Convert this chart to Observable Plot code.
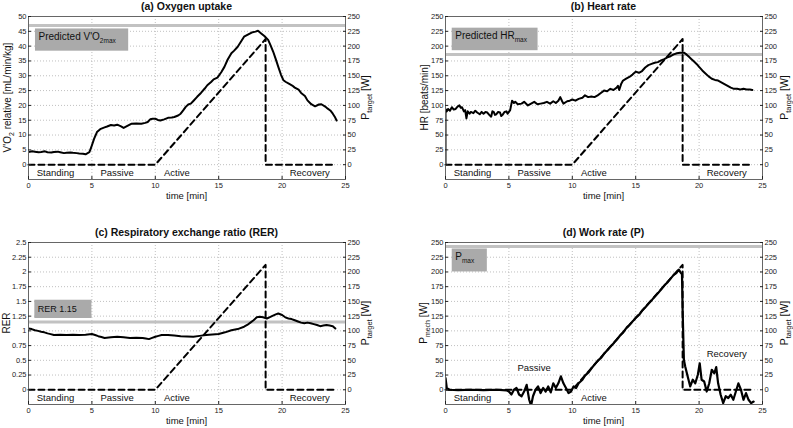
<!DOCTYPE html>
<html><head><meta charset="utf-8">
<script src="https://cdn.jsdelivr.net/npm/d3@7"></script>
<script src="https://cdn.jsdelivr.net/npm/@observablehq/plot@0.6"></script>
<style>
body{margin:0;background:#fff;}
#fig{position:relative;width:793px;height:428px;font-family:"Liberation Sans",Arial,sans-serif;}
#fig svg{position:absolute;overflow:visible;}
</style></head><body><div id="fig"></div>
<script>
// ---------- shared data ----------
const xTicks = [0, 5, 10, 15, 20, 25];
const xGrid = [5, 10, 15, 20];
const targetTicks = [0, 25, 50, 75, 100, 125, 150, 175, 200, 225, 250];
const targetT = [0, 10, 18.7, 18.7, 24.1];
const targetP = [0, 0, 212, 0, 0];
const phaseNames = ["Standing", "Passive", "Active", "Recovery"];
const phaseT = [0.65, 5.67, 10.68, 20.6];

// (a) oxygen uptake [mL/min/kg]
const vo2 = [[0,4.3],[0.3,4.5],[0.5,4.4],[0.8,4.2],[1,4.3],[1.3,4.5],[1.5,4.2],[1.8,4.1],[2,4.3],[2.3,4.4],[2.5,4.2],[2.8,3.9],[3,4.0],[3.3,4.1],[3.5,4.0],[3.8,3.9],[4,3.8],[4.3,3.7],[4.5,3.5],[4.8,4.2],[4.95,5.9],[5.17,8.7],[5.4,11],[5.7,12.1],[6,12.6],[6.2,12.9],[6.5,13.4],[6.75,13.2],[7,13.5],[7.3,12.9],[7.5,12.4],[7.8,13.1],[8.1,13.8],[8.5,13.9],[8.9,13.8],[9.2,14.1],[9.4,14.4],[9.6,15.3],[9.8,15.5],[10,15.5],[10.2,15.1],[10.4,14.9],[10.7,15.3],[11,15.8],[11.3,15.9],[11.5,16.1],[11.8,16.6],[12,17.2],[12.2,18.3],[12.4,19.5],[12.6,20.3],[12.8,20.6],[13,21.5],[13.3,22.9],[13.6,24.2],[13.9,25.7],[14.1,26.8],[14.4,27.9],[14.6,28.8],[14.9,29.4],[15.2,31.2],[15.45,33],[15.7,35.4],[16,37.6],[16.2,38.4],[16.5,39.8],[16.8,41.8],[17,43.2],[17.3,43.9],[17.6,44.6],[17.9,44.9],[18.1,45.2],[18.35,44.3],[18.6,43.4],[18.9,42.1],[19.1,40.2],[19.3,38.1],[19.5,35.6],[19.7,33],[19.9,30.5],[20.1,28.5],[20.3,27.9],[20.5,27.4],[20.8,26.7],[21,26],[21.3,25.3],[21.5,24.2],[21.8,23.2],[22,21.7],[22.3,20.4],[22.6,19.7],[22.9,20.3],[23.1,20.4],[23.4,19.6],[23.6,18.9],[23.8,18.3],[24,17.2],[24.15,16.2],[24.3,14.9]];
const vo2Ticks = [0,5,10,15,20,25,30,35,40,45,50];
const vo2Max = 47;

// (b) heart rate [beats/min]
const hr = [[0,0],[0,94],[0.1,90],[0.2,94],[0.35,91],[0.5,97],[0.65,93],[0.8,94],[0.95,98],[1.1,100],[1.2,96],[1.3,97],[1.45,90],[1.55,92],[1.65,78],[1.75,90],[1.9,86],[2,89],[2.2,87],[2.35,91],[2.5,88],[2.7,85],[2.85,89],[3,86],[3.15,89],[3.3,88],[3.45,84],[3.6,81],[3.7,90],[3.8,89],[3.9,84],[4,85],[4.15,89],[4.3,88],[4.4,82],[4.5,84],[4.65,89],[4.8,90],[4.9,86],[5,89],[5.1,92],[5.25,108],[5.4,104],[5.5,106],[5.7,102],[6,103],[6.2,106],[6.5,100],[6.75,103],[7,106],[7.25,102],[7.5,103],[7.75,104],[8,106],[8.25,103],[8.5,107],[8.7,104],[8.9,108],[9.05,114],[9.2,107],[9.3,103],[9.6,107],[9.8,108],[10,110],[10.25,108],[10.5,111],[10.8,113],[11,117],[11.25,114],[11.5,115],[11.75,114],[12,117],[12.25,121],[12.5,125],[12.75,124],[13,128],[13.25,126],[13.5,130],[13.6,133],[13.7,126],[13.85,136],[14,142],[14.25,145],[14.5,148],[14.75,152],[15,157],[15.25,155],[15.5,158],[15.75,164],[16,168],[16.25,170],[16.5,172],[16.75,173],[17,176],[17.25,178],[17.5,181],[17.75,183],[18,186],[18.25,188],[18.5,189],[18.8,189],[19,186],[19.2,182],[19.4,178],[19.6,174],[19.8,170],[20,165],[20.25,159],[20.5,154],[20.75,149],[21,145],[21.25,143],[21.5,142],[21.75,139],[22,136],[22.25,133],[22.5,130],[22.75,128],[23,128],[23.25,127],[23.5,128],[23.75,127],[24,127],[24.2,126]];
const hrTicks = [0,25,50,75,100,125,150,175,200,225,250];
const hrMax = 186;

// (c) respiratory exchange ratio
const rer = [[0,1.04],[0.25,1.03],[0.5,1.01],[0.75,1.0],[1,0.985],[1.25,0.975],[1.5,0.957],[1.75,0.945],[2,0.93],[2.5,0.935],[3,0.93],[3.5,0.935],[4,0.93],[4.5,0.935],[5,0.946],[5.25,0.93],[5.5,0.91],[5.75,0.895],[6,0.88],[6.5,0.89],[7,0.9],[7.5,0.89],[8,0.88],[8.5,0.885],[9,0.88],[9.25,0.87],[9.5,0.86],[9.75,0.88],[10,0.9],[10.25,0.915],[10.5,0.93],[11,0.93],[11.5,0.92],[12,0.91],[12.5,0.905],[13,0.9],[13.5,0.915],[14,0.93],[14.5,0.94],[15,0.946],[15.5,0.975],[16,1.01],[16.5,1.03],[17,1.07],[17.25,1.1],[17.5,1.14],[17.75,1.18],[18,1.23],[18.25,1.24],[18.5,1.23],[18.8,1.21],[19,1.23],[19.2,1.25],[19.5,1.28],[19.7,1.295],[20,1.27],[20.25,1.23],[20.5,1.21],[20.75,1.2],[21,1.18],[21.25,1.16],[21.5,1.14],[21.75,1.13],[22,1.14],[22.25,1.13],[22.5,1.115],[22.75,1.1],[23,1.08],[23.25,1.09],[23.5,1.1],[23.75,1.09],[24,1.08],[24.2,1.04]];
const rerTicks = [0,0.25,0.5,0.75,1,1.25,1.5,1.75,2,2.25,2.5];
const rerRef = 1.15;

// (d) mechanical work rate [W]
const pmech = [[0,20],[0.1,3],[0.3,0],[1,-0.5],[2,0],[3,-0.5],[4,0],[4.8,-1],[5,-3],[5.2,-8],[5.4,0],[5.6,3],[5.8,-8],[6,-11],[6.2,-3],[6.4,8.5],[6.6,-17],[6.75,-27],[6.9,-11],[7.1,0],[7.3,5.7],[7.5,-5.7],[7.7,3],[7.9,-3],[8.1,5.7],[8.3,-4.5],[8.5,11],[8.7,3],[8.9,11],[9.1,22.7],[9.3,11],[9.5,3],[9.7,-5.7],[9.9,-3],[10.1,5.7],[10.3,3],[10.5,11],[10.8,17],[11,24],[11.3,30],[11.5,36],[11.8,44],[12,49],[12.3,55],[12.5,61],[12.8,68],[13,73],[13.3,80],[13.5,85],[13.8,93],[14,97],[14.3,106],[14.5,110],[14.8,117],[15,122],[15.3,128],[15.5,134],[15.8,141],[16,146],[16.3,153],[16.5,158],[16.8,165],[17,170],[17.3,178],[17.5,182],[17.8,190],[18,195],[18.2,198],[18.4,204],[18.55,199],[18.65,196],[18.7,136],[18.8,51],[18.9,40],[19.1,22.7],[19.3,5.7],[19.5,17],[19.7,11],[19.9,25.5],[20.05,45],[20.2,17],[20.4,14],[20.6,-3],[20.8,11],[21,34],[21.2,28],[21.35,38.5],[21.5,11],[21.7,-8.5],[21.9,-22.7],[22.1,-11],[22.3,-14],[22.5,-8.5],[22.7,-17],[22.9,-3],[23.1,11],[23.3,0],[23.5,-17],[23.7,-5.7],[23.9,-17],[24.1,-22.7],[24.3,-20]];
const pTicks = [0,25,50,75,100,125,150,175,200,225,250];
const pMax = 243;

// ---------- drawing ----------
const fig = document.getElementById("fig");

function richText(svg, x, y, parts, {size = 9.5, sub = 0.7, weight = "normal", anchor = "start", rotate = 0} = {}) {
  const t = d3.select(svg).append("text")
    .attr("transform", `translate(${x},${y})` + (rotate ? ` rotate(${rotate})` : ""))
    .attr("text-anchor", anchor)
    .attr("font-size", size)
    .attr("font-weight", weight)
    .attr("font-family", "'Liberation Sans', Arial, sans-serif")
    .attr("fill", "#111");
  let shifted = false;
  const off = size * 0.32;
  parts.forEach(([s, isSub]) => {
    const sp = t.append("tspan").text(s);
    if (isSub) {
      sp.attr("font-size", size * sub);
      if (!shifted) { sp.attr("dy", off); shifted = true; }
    } else {
      if (shifted) { sp.attr("dy", -off); shifted = false; }
    }
  });
  return t;
}

function panel(cfg) {
  const W = 397, H = 214;
  const {left, top, mt, mr, mb, ml, yDomain, yTicks, factor, series, ref, box} = cfg;
  const target = targetT.map((t, i) => ({t, v: targetP[i] * factor}));
  const rightTicks = targetTicks.map(w => w * factor);
  const phases = phaseNames.map((n, i) => ({n, t: phaseT[i], y: cfg.phaseY[i]}));
  const gridStyle = {stroke: "#b0b0b0", strokeOpacity: 1, strokeDasharray: "1,2", strokeWidth: 0.8};
  const chart = Plot.plot({
    width: W, height: H,
    marginTop: mt, marginRight: mr, marginBottom: mb, marginLeft: ml,
    x: {domain: [0, 25]},
    y: {domain: yDomain},
    style: {fontFamily: "'Liberation Sans', Arial, sans-serif", fontSize: "7.5px", color: "#222", background: "transparent", overflow: "visible"},
    marks: [
      Plot.gridX(xGrid, gridStyle),
      Plot.gridY(yTicks, gridStyle),
      Plot.ruleY([ref], {stroke: "#c2c2c2", strokeWidth: 3}),
      Plot.rect([box], {x1: d => d[0], x2: d => d[1], y1: d => d[2], y2: d => d[3], fill: "#aaaaaa"}),
      Plot.line(series, {x: d => d[0], y: d => d[1], stroke: "#000", strokeWidth: cfg.lw || 2, clip: true}),
      Plot.line(target, {x: "t", y: "v", stroke: "#000", strokeWidth: 2, strokeDasharray: "6,4"}),
      Plot.text(phases, {x: "t", y: "y", text: "n", textAnchor: "start", fontSize: 9.5, fill: "#111"}),
      Plot.frame({stroke: "#666"}),
      Plot.axisX(xTicks, {anchor: "bottom", tickSize: -3, tickPadding: 6, label: null, fontSize: 7.5}),
      Plot.axisY(yTicks, {anchor: "left", tickSize: -3, tickPadding: 5, tickFormat: d => String(d), label: null, fontSize: 7.5}),
      Plot.axisY(rightTicks, {anchor: "right", tickSize: -3, tickPadding: 5, tickFormat: d => String(Math.round(d / factor)), label: null, fontSize: 7.5})
    ]
  });
  chart.style.left = left + "px";
  chart.style.top = top + "px";
  fig.appendChild(chart);
  const sx = chart.scale("x"), sy = chart.scale("y");
  const cx = (ml + (W - mr)) / 2, cy = (mt + (H - mb)) / 2;
  richText(chart, cx, mt - 6, [[cfg.title, false]], {size: 10.5, weight: "bold", anchor: "middle"});
  richText(chart, cx, H - mb + 19.5, [["time [min]", false]], {size: 9.5, anchor: "middle"});
  richText(chart, cfg.ylabelX, cy, cfg.ylabel, {size: 10, anchor: "middle", rotate: -90});
  richText(chart, cfg.rightX, cy, [["P", false], ["target", true], [" [W]", false]], {size: 10.5, anchor: "middle", rotate: -90});
  const bx = sx.apply(box[0]) + 3.5;
  const by = (sy.apply(box[2]) + sy.apply(box[3])) / 2 + cfg.boxDy;
  richText(chart, bx, by, cfg.boxLabel, {size: cfg.boxSize || 10, sub: 0.65});
}

panel({left: 0, top: 0, mt: 16, mr: 52, mb: 35, ml: 28,
  yDomain: [-5, 50], yTicks: vo2Ticks, factor: 0.2, series: vo2, ref: vo2Max,
  box: [0.55, 7.9, 38.3, 45.8], boxLabel: [["Predicted V'O", false], ["2max", true]], boxDy: 0,
  title: "(a) Oxygen uptake", ylabel: [["V'O", false], ["2", true], [" relative [mL/min/kg]", false]],
  ylabelX: 11, rightX: 369, phaseY: [-2.7, -2.7, -2.7, -2.7]});

panel({left: 396, top: 0, mt: 16, mr: 31, mb: 35, ml: 49,
  yDomain: [-25, 250], yTicks: hrTicks, factor: 1, series: hr, ref: hrMax,
  box: [0.53, 7.3, 192.3, 230.3], boxLabel: [["Predicted HR", false], ["max", true]], boxDy: 0,
  title: "(b) Heart rate", ylabel: [["HR [beats/min]", false]],
  ylabelX: 32, rightX: 392, phaseY: [-13.6, -13.6, -13.6, -13.6]});

panel({left: 0, top: 214, mt: 28, mr: 52, mb: 24, ml: 28,
  yDomain: [-0.25, 2.5], yTicks: rerTicks, factor: 0.01, series: rer, ref: rerRef,
  box: [0.5, 5.0, 1.21, 1.52], boxLabel: [["RER 1.15", false]], boxDy: 3, boxSize: 9,
  title: "(c) Respiratory exchange ratio (RER)", ylabel: [["RER", false]],
  ylabelX: 10, rightX: 369, phaseY: [-0.144, -0.144, -0.144, -0.144]});

panel({left: 396, top: 214, mt: 28, mr: 31, mb: 24, ml: 49,
  yDomain: [-25, 250], yTicks: pTicks, factor: 1, series: pmech, ref: pMax, lw: 2.2,
  box: [0.53, 3.3, 200, 239], boxLabel: [["P", false], ["max", true]], boxDy: 0,
  title: "(d) Work rate (P)", ylabel: [["P", false], ["mech", true], [" [W]", false]],
  ylabelX: 31, rightX: 392, phaseY: [-14.4, 36.9, -14.4, 60.4]});
</script>
</body></html>
